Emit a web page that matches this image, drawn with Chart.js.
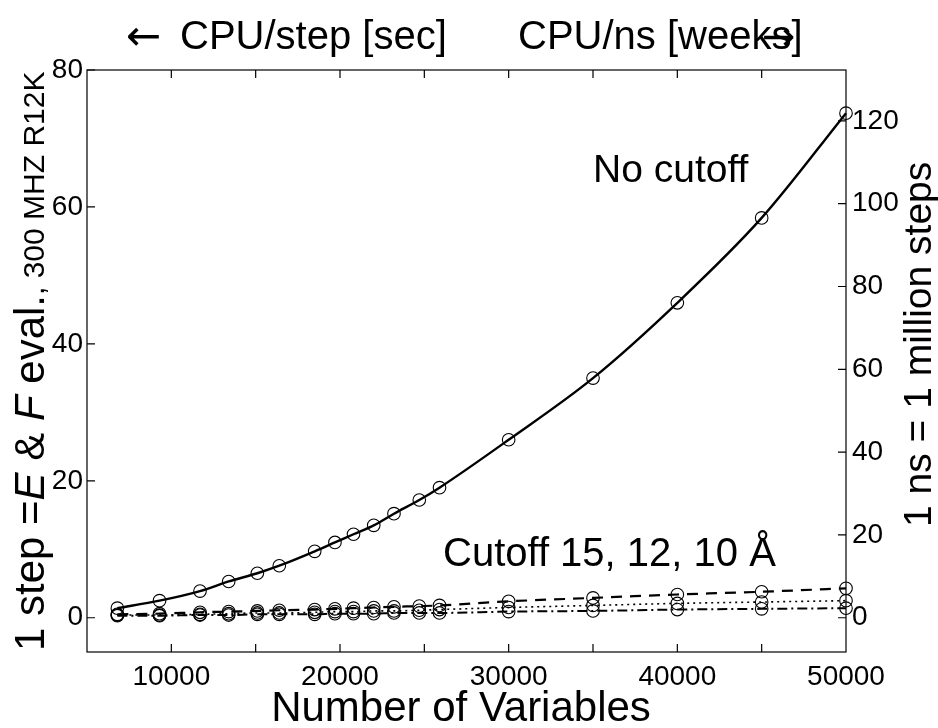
<!DOCTYPE html>
<html><head><meta charset="utf-8">
<script src="https://cdn.jsdelivr.net/npm/chart.js@4/dist/chart.umd.min.js"></script>
<style>html,body{margin:0;padding:0;background:#fff;} #wrap{width:938px;height:728px;position:relative;}</style>
</head><body><div id="wrap"><canvas id="c" width="938" height="728"></canvas></div>
<script>
// ---- data ----
const numVariables = [6800, 9300, 11700, 13400, 15100, 16400, 18500, 19700, 20800, 22000, 23200, 24700, 25900, 30000, 35000, 40000, 45000, 50000];
const noCutoff  = [1.4, 2.5, 3.9, 5.3, 6.5, 7.6, 9.7, 11.0, 12.2, 13.5, 15.2, 17.2, 19.0, 26.0, 35.0, 46.0, 58.4, 73.7];
const cutoff15  = [0.5, 0.6, 0.8, 0.9, 1.0, 1.1, 1.2, 1.3, 1.4, 1.5, 1.6, 1.7, 1.8, 2.4, 2.9, 3.4, 3.8, 4.3];
const cutoff12  = [0.4, 0.4, 0.5, 0.6, 0.7, 0.7, 0.8, 0.9, 0.9, 1.0, 1.0, 1.1, 1.2, 1.5, 1.8, 2.1, 2.3, 2.5];
const cutoff10  = [0.3, 0.3, 0.4, 0.4, 0.5, 0.5, 0.5, 0.6, 0.6, 0.6, 0.7, 0.7, 0.7, 0.9, 1.0, 1.2, 1.3, 1.4];
const xTickLabels = [10000, 20000, 30000, 40000, 50000];
const leftTickLabels = [0, 20, 40, 60, 80];
const rightTickLabels = [0, 20, 40, 60, 80, 100, 120];
const SEC_TO_WEEKS = 1e6 / 604800; // 1 ns = 1 million steps
const X_MIN = 5000, X_MAX = 50000, Y_MIN = -5, Y_MAX = 80;

const FONT = '"Liberation Sans", Arial, Helvetica, sans-serif';
const ARROW_FONT = '"DejaVu Sans", sans-serif';
const pts = arr => numVariables.map((x, i) => ({x: x, y: arr[i]}));

function ds(label, arr, width, dash) {
  return {
    label: label, data: pts(arr),
    borderColor: '#000', borderWidth: width, borderDash: dash,
    pointRadius: 6.3, pointHoverRadius: 6.3, pointBorderWidth: 1.1,
    pointBorderColor: '#000', pointBackgroundColor: 'rgba(0,0,0,0)',
    cubicInterpolationMode: 'monotone', fill: false, clip: false
  };
}

const decor = {
  id: 'decor',
  afterDraw(chart) {
    const ctx = chart.ctx, a = chart.chartArea;
    const sx = chart.scales.x, sy = chart.scales.y, sy2 = chart.scales.y2;
    ctx.save();
    ctx.strokeStyle = '#000'; ctx.lineWidth = 1.2;
    ctx.strokeRect(a.left, a.top, a.right - a.left, a.bottom - a.top);
    const TL = 8;
    ctx.beginPath();
    sx.ticks.forEach(t => {
      const px = sx.getPixelForValue(t.value);
      if (px <= a.left + 1 || px >= a.right - 1) return;
      ctx.moveTo(px, a.bottom); ctx.lineTo(px, a.bottom - TL);
      ctx.moveTo(px, a.top); ctx.lineTo(px, a.top + TL);
    });
    sy.ticks.forEach(t => {
      const py = sy.getPixelForValue(t.value);
      ctx.moveTo(a.left, py); ctx.lineTo(a.left + TL, py);
    });
    sy2.ticks.forEach(t => {
      const py = sy2.getPixelForValue(t.value);
      ctx.moveTo(a.right, py); ctx.lineTo(a.right - TL, py);
    });
    ctx.stroke();

    ctx.fillStyle = '#000';
    ctx.textBaseline = 'alphabetic';
    ctx.textAlign = 'left';
    // top titles
    ctx.font = '42px ' + ARROW_FONT;
    ctx.fillText('\u2190', 126, 50);
    ctx.font = '40px ' + FONT;
    ctx.fillText('CPU/step [sec]', 180, 49);
    ctx.fillText('CPU/ns [weeks]', 518, 49);
    const wk = ctx.measureText('CPU/ns [weeks').width;
    ctx.font = '40px ' + ARROW_FONT;
    ctx.textAlign = 'right';
    ctx.fillText('\u2192', 518 + wk + 4, 50);
    ctx.textAlign = 'left';

    // annotations
    ctx.font = '39px ' + FONT;
    ctx.fillText('No cutoff', 593, 182);
    ctx.font = '40px ' + FONT;
    ctx.fillText('Cutoff 15, 12, 10 \u00C5', 443, 566);

    // x title
    ctx.textAlign = 'center';
    ctx.font = '42px ' + FONT;
    ctx.fillText('Number of Variables', 461, 721);

    // left y title (rotated)
    ctx.save();
    ctx.translate(44, 651);
    ctx.rotate(-Math.PI / 2);
    ctx.textAlign = 'left';
    const runs = [
      ['1 step =', '42px ' + FONT],
      ['E', 'italic 42px ' + FONT],
      [' & ', '42px ' + FONT],
      ['F', 'italic 42px ' + FONT],
      [' eval.', '42px ' + FONT],
      [', 300 MHZ R12K', '30px ' + FONT]
    ];
    let x = 0;
    runs.forEach(r => { ctx.font = r[1]; ctx.fillText(r[0], x, 0); x += ctx.measureText(r[0]).width; });
    ctx.restore();

    // right y title (rotated)
    ctx.save();
    ctx.translate(931, 527);
    ctx.rotate(-Math.PI / 2);
    ctx.textAlign = 'left';
    ctx.font = '39px ' + FONT;
    ctx.fillText('1 ns = 1 million steps', 0, 0);
    ctx.restore();
    ctx.restore();
  }
};

new Chart(document.getElementById('c'), {
  type: 'line',
  data: {
    datasets: [
      ds('No cutoff', noCutoff, 2.4, []),
      ds('Cutoff 15 \u00C5', cutoff15, 2.2, [11, 8]),
      ds('Cutoff 12 \u00C5', cutoff12, 1.6, [2, 4]),
      ds('Cutoff 10 \u00C5', cutoff10, 2.0, [10, 4, 2, 4])
    ]
  },
  options: {
    responsive: false, animation: false, devicePixelRatio: 1,
    layout: { padding: { top: 70, left: 0, right: 0, bottom: 0 } },
    plugins: { legend: { display: false }, tooltip: { enabled: false }, title: { display: false } },
    scales: {
      x: {
        type: 'linear', min: X_MIN, max: X_MAX,
        grid: { display: false, drawTicks: false }, border: { display: false },
        ticks: {
          stepSize: 5000, includeBounds: false, padding: 8, color: '#000', maxRotation: 0, autoSkip: false,
          font: { family: FONT, size: 28 },
          callback: v => xTickLabels.includes(v) ? String(v) : ''
        },
        afterFit: s => { s.height = 76; }
      },
      y: {
        type: 'linear', position: 'left', min: Y_MIN, max: Y_MAX,
        grid: { display: false, drawTicks: false }, border: { display: false },
        ticks: {
          stepSize: 20, includeBounds: false, padding: 4, color: '#000',
          font: { family: FONT, size: 28 },
          callback: v => leftTickLabels.includes(v) ? String(v) : ''
        },
        afterFit: s => { s.width = 87; }
      },
      y2: {
        type: 'linear', position: 'right', min: Y_MIN * SEC_TO_WEEKS, max: Y_MAX * SEC_TO_WEEKS,
        grid: { display: false, drawTicks: false }, border: { display: false },
        ticks: {
          stepSize: 20, includeBounds: false, padding: 6, color: '#000',
          font: { family: FONT, size: 28 },
          callback: v => rightTickLabels.includes(v) ? String(v) : ''
        },
        afterFit: s => { s.width = 92; }
      }
    }
  },
  plugins: [decor]
});
</script></body></html>
